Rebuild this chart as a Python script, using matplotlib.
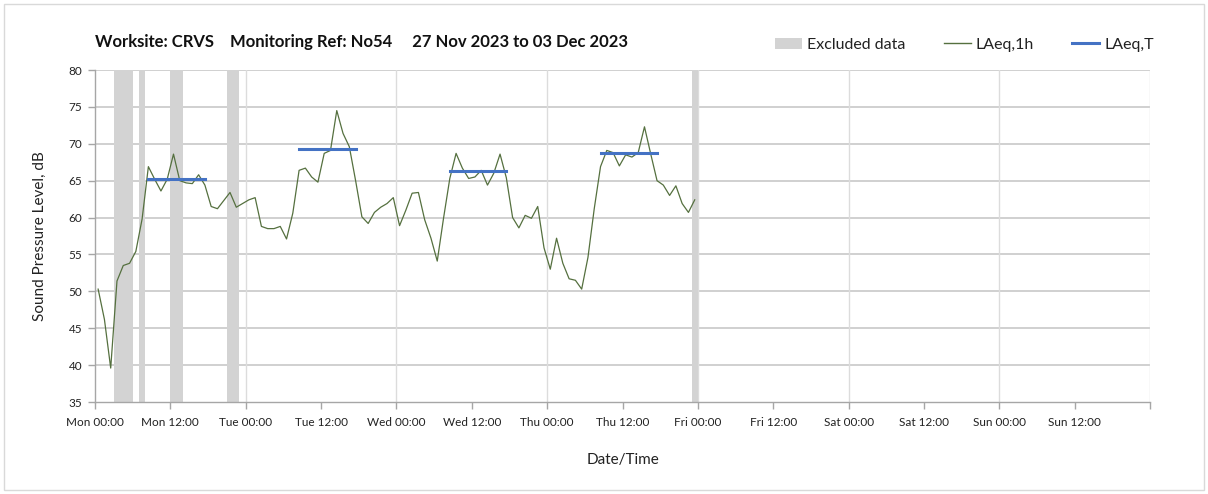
import matplotlib
matplotlib.use("Agg")
import matplotlib.pyplot as plt
from matplotlib.patches import Patch, Rectangle
from matplotlib.lines import Line2D

plt.rcParams['font.family'] = ['Lato', 'DejaVu Sans']

# hours since Mon 27 Nov 2023 00:00 (hourly values plotted at mid-hour)
laeq_1h = [50.3, 46.2, 39.6, 51.4, 53.5, 53.8, 55.4, 59.8, 66.9, 65.2,
           63.6, 65.2, 68.6, 65.0, 64.7, 64.6, 65.8, 64.4, 61.5, 61.2,
           62.3, 63.4, 61.4, 61.9, 62.4, 62.7, 58.8, 58.5, 58.5, 58.8,
           57.1, 60.6, 66.4, 66.7, 65.5, 64.8, 68.7, 69.1, 74.5, 71.4,
           69.6, 65.0, 60.1, 59.2, 60.7, 61.4, 61.9, 62.7, 58.9, 61.0,
           63.3, 63.4, 59.7, 57.2, 54.1, 59.9, 65.3, 68.7, 66.7, 65.3,
           65.5, 66.4, 64.4, 66.0, 68.6, 65.4, 60.0, 58.6, 60.3, 59.9,
           61.5, 55.9, 53.0, 57.2, 53.8, 51.7, 51.5, 50.3, 54.6, 61.2,
           66.9, 69.1, 68.8, 67.0, 68.5, 68.2, 68.8, 72.3, 68.6, 65.0,
           64.4, 63.0, 64.3, 61.9, 60.7, 62.4]
hours = [i + 0.5 for i in range(len(laeq_1h))]

# LAeq,T periods
laeqt_start = [8.5, 32.5, 56.5, 80.5]
laeqt_end = [17.5, 41.5, 65.5, 89.5]
laeqt_value = [65.2, 69.3, 66.35, 68.7]

# excluded data periods (hours)
excl_start = [3, 7, 12, 21, 95]
excl_end = [6, 8, 14, 23, 96]

tick_hours = list(range(0, 169, 12))
tick_labels = ['Mon 00:00', 'Mon 12:00', 'Tue 00:00', 'Tue 12:00', 'Wed 00:00',
               'Wed 12:00', 'Thu 00:00', 'Thu 12:00', 'Fri 00:00', 'Fri 12:00',
               'Sat 00:00', 'Sat 12:00', 'Sun 00:00', 'Sun 12:00', '']

fig = plt.figure(figsize=(12.08, 4.94), dpi=100)
ax = fig.add_axes([95/1208, 1-402/494, (1150-95)/1208, (402-70)/494])

for s, e in zip(excl_start, excl_end):
    ax.axvspan(s, e, color='#d3d3d3', lw=0, zorder=1)

ax.plot(hours, laeq_1h, color='#55703f', lw=0.9, zorder=3)
for s, e, v in zip(laeqt_start, laeqt_end, laeqt_value):
    ax.plot([s, e], [v, v], color='#4472c4', lw=2.2, zorder=4)

ax.set_xlim(0, 168)
ax.set_ylim(35, 80)
ax.set_yticks(range(35, 81, 5))
ax.set_xticks(tick_hours)
ax.set_xticklabels(tick_labels)

# grid
for y in range(40, 81, 5):
    ax.axhline(y, color='#c8c8c8', lw=1.2, zorder=0.5)
for x in range(24, 169, 24):
    ax.axvline(x, color='#dcdcdc', lw=1.0, zorder=0.5)

for side in ['top', 'right']:
    ax.spines[side].set_visible(False)
for side in ['left', 'bottom']:
    ax.spines[side].set_color('#a6a6a6')
    ax.spines[side].set_linewidth(1.0)

ax.tick_params(axis='both', colors='#a6a6a6', labelcolor='#222222', labelsize=8.5,
               direction='out', length=5, width=1)
ax.tick_params(axis='x', pad=6)
ax.tick_params(axis='y', pad=4)

ax.set_xlabel('Date/Time', fontsize=11, color='#222222', labelpad=18)
ax.set_ylabel('Sound Pressure Level, dB', fontsize=11, color='#222222', labelpad=16)

fig.text(95/1208, 1-42/494, 'Worksite: CRVS    Monitoring Ref: No54     27 Nov 2023 to 03 Dec 2023',
         fontsize=12, fontweight='bold', color='#111111', ha='left', va='center')

handles = [Patch(facecolor='#d3d3d3', edgecolor='none'),
           Line2D([0], [0], color='#55703f', lw=1),
           Line2D([0], [0], color='#4472c4', lw=2.2)]
fig.legend(handles, ['Excluded data', 'LAeq,1h', 'LAeq,T'], ncol=3, frameon=False,
           loc='center right', bbox_to_anchor=(1168/1208, 1-45/494), fontsize=11.5,
           handlelength=1.7, columnspacing=2.4, handletextpad=0.3,
           labelcolor='#222222')

fig.patches.append(Rectangle((4/1208, 4/494), 1200/1208, 486/494, transform=fig.transFigure,
                             fill=False, edgecolor='#d9d9d9', lw=1))

fig.savefig('out.png', dpi=100)
